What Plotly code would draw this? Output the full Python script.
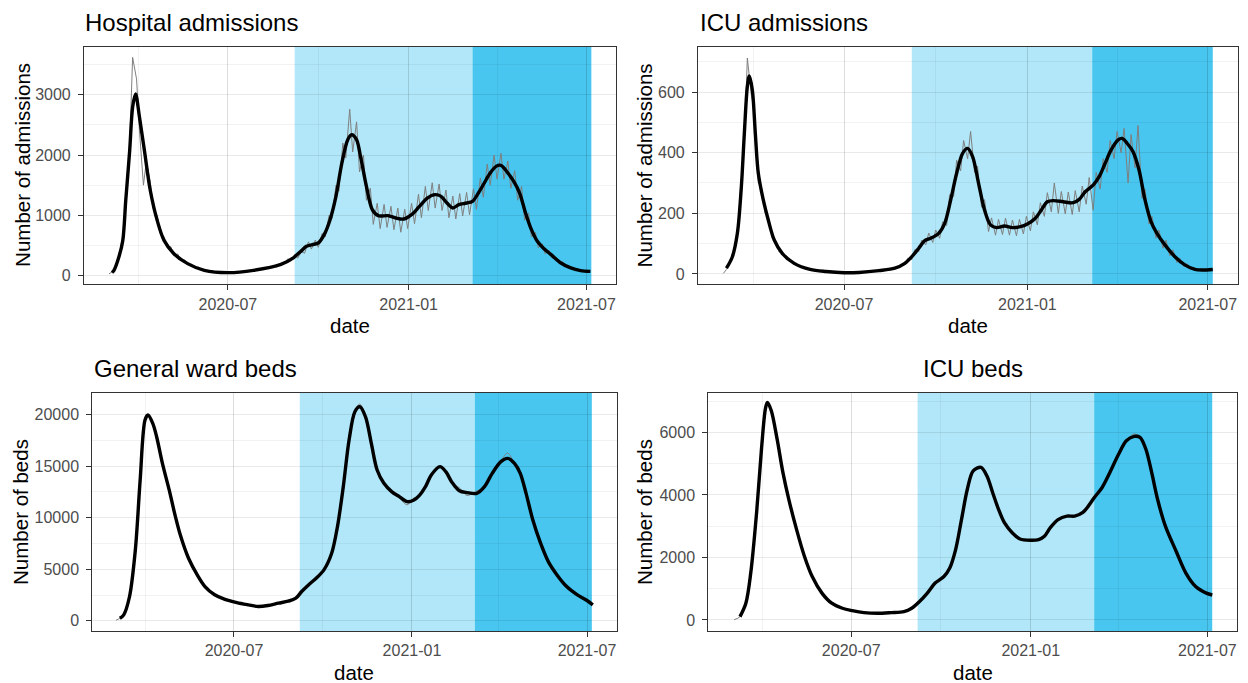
import pandas as pd
import plotly.graph_objects as go

# ---------------------------------------------------------------------------
# Data
# ---------------------------------------------------------------------------
# Reported admissions are sampled on Mondays and Thursdays.
raw_mon = pd.date_range("2020-03-02", "2021-07-05", freq="7D")
raw_thu = pd.date_range("2020-03-05", "2021-07-01", freq="7D")

hosp_adm_mon = [30, 170, 640, 2150, 3260, 1500, 1550, 1000, 650, 480,
                360, 260, 190, 140, 100, 80, 65, 58, 60, 68,
                80, 98, 115, 132, 160, 205, 280, 350, 400, 560,
                590, 700, 1000, 1500, 2200, 2760, 2550, 2000, 1450, 1200,
                1180, 1150, 1120, 1100, 1200, 1350, 1480, 1540, 1520, 1420,
                1320, 1360, 1380, 1440, 1620, 1850, 2000, 2030, 1900, 1740,
                1480, 1040, 720, 530, 420, 310, 230, 150, 112, 88,
                72]
hosp_adm_thu = [60, 330, 1300, 3620, 2400, 1900, 1100, 700, 470, 330,
                250, 180, 130, 95, 70, 58, 48, 44, 48, 58,
                70, 85, 100, 118, 145, 190, 240, 290, 370, 440,
                470, 640, 950, 1400, 1950, 2050, 1720, 1250, 850, 780,
                800, 760, 720, 780, 860, 960, 1080, 1120, 1080, 960,
                940, 990, 1010, 1100, 1300, 1500, 1600, 1600, 1450, 1250,
                920, 640, 460, 360, 290, 200, 150, 100, 78, 68]

icu_adm_mon = [2, 40, 120, 430, 590, 300, 200, 118, 72, 48,
               32, 23, 15, 11, 8, 7, 5, 4, 3, 4,
               5, 7, 9, 11, 14, 20, 30, 48, 74, 96,
               104, 118, 160, 255, 340, 380, 335, 220, 140, 128,
               130, 128, 126, 132, 142, 162, 190, 205, 200, 198,
               196, 205, 230, 210, 280, 335, 380, 400, 300, 350,
               250, 165, 118, 85, 60, 38, 24, 14, 10, 9,
               14]
icu_adm_thu = [15, 75, 270, 712, 540, 290, 190, 112, 75, 52,
               36, 25, 17, 12, 10, 8, 6, 5, 6, 6,
               8, 10, 13, 16, 21, 32, 52, 80, 112, 135,
               145, 172, 262, 375, 440, 470, 355, 245, 185, 180,
               184, 178, 180, 190, 205, 235, 268, 300, 272, 270,
               275, 290, 318, 335, 380, 440, 470, 480, 460, 490,
               280, 190, 145, 112, 80, 52, 34, 22, 18, 18]

# Smoothed trend of hospital admissions
hosp_trend_dates = [
    "2020-03-05", "2020-03-07", "2020-03-12", "2020-03-16", "2020-03-19",
    "2020-03-23", "2020-03-26", "2020-03-29", "2020-04-02", "2020-04-07",
    "2020-04-13", "2020-04-20", "2020-04-27", "2020-05-07", "2020-05-21",
    "2020-06-07", "2020-07-01", "2020-07-27", "2020-08-24", "2020-09-06",
    "2020-09-13", "2020-09-19", "2020-09-25", "2020-10-01", "2020-10-07",
    "2020-10-13", "2020-10-19", "2020-10-25", "2020-10-31", "2020-11-04",
    "2020-11-09", "2020-11-13", "2020-11-19", "2020-11-25", "2020-12-01",
    "2020-12-11", "2020-12-19", "2020-12-27", "2021-01-04", "2021-01-12",
    "2021-01-20", "2021-01-28", "2021-02-03", "2021-02-09", "2021-02-15",
    "2021-02-21", "2021-03-01", "2021-03-07", "2021-03-13", "2021-03-19",
    "2021-03-25", "2021-03-31", "2021-04-05", "2021-04-12", "2021-04-18",
    "2021-04-24", "2021-04-30", "2021-05-06", "2021-05-12", "2021-05-18",
    "2021-05-26", "2021-06-05", "2021-06-15", "2021-06-25", "2021-07-05"]
hosp_trend = [
    50, 88, 309, 584, 1247,
    2075, 2793, 3014, 2626, 2075,
    1412, 916, 584, 364, 199,
    88, 50, 88, 187, 300,
    400, 486, 514, 541, 680,
    928, 1315, 1867, 2254, 2337,
    2254, 1978, 1480, 1094, 994,
    994, 956, 939, 1011, 1149,
    1287, 1343, 1315, 1204, 1122,
    1177, 1204, 1232, 1370, 1536,
    1702, 1812, 1829, 1702, 1563,
    1370, 1039, 762, 569, 459,
    348, 210, 127, 83, 70]

# Smoothed trend of ICU admissions
icu_trend_dates = [
    "2020-03-05", "2020-03-11", "2020-03-16", "2020-03-20", "2020-03-23",
    "2020-03-26", "2020-03-28", "2020-03-31", "2020-04-03", "2020-04-06",
    "2020-04-11", "2020-04-16", "2020-04-22", "2020-04-30", "2020-05-12",
    "2020-05-28", "2020-06-13", "2020-07-01", "2020-07-16", "2020-08-05",
    "2020-08-21", "2020-08-31", "2020-09-07", "2020-09-14", "2020-09-20",
    "2020-09-26", "2020-10-04", "2020-10-10", "2020-10-16", "2020-10-22",
    "2020-10-28", "2020-11-02", "2020-11-07", "2020-11-13", "2020-11-19",
    "2020-11-25", "2020-12-01", "2020-12-09", "2020-12-17", "2020-12-25",
    "2021-01-01", "2021-01-09", "2021-01-15", "2021-01-21", "2021-01-27",
    "2021-02-06", "2021-02-16", "2021-02-22", "2021-02-28", "2021-03-08",
    "2021-03-14", "2021-03-20", "2021-03-26", "2021-04-02", "2021-04-06",
    "2021-04-11", "2021-04-17", "2021-04-23", "2021-04-29", "2021-05-05",
    "2021-05-11", "2021-05-19", "2021-05-29", "2021-06-08", "2021-06-18",
    "2021-06-26", "2021-07-06"]
icu_trend = [
    19, 57, 134, 288, 464,
    618, 653, 607, 464, 332,
    244, 178, 112, 68, 35,
    15, 8, 4, 5, 11,
    19, 35, 57, 85, 110,
    118, 134, 167, 244, 332,
    398, 414, 387, 299, 211,
    162, 153, 158, 153, 156,
    165, 184, 211, 238, 242,
    238, 235, 246, 271, 293,
    321, 365, 409, 442, 447,
    431, 403, 343, 244, 173,
    134, 96, 57, 30, 15,
    13, 15]

# General ward bed occupancy: smoothed trend and reported values
ward_dates = [
    "2020-03-01", "2020-03-05", "2020-03-09", "2020-03-15", "2020-03-21",
    "2020-03-26", "2020-03-31", "2020-04-03", "2020-04-08", "2020-04-12",
    "2020-04-18", "2020-04-25", "2020-05-01", "2020-05-07", "2020-05-15",
    "2020-05-24", "2020-06-01", "2020-06-11", "2020-06-21", "2020-07-04",
    "2020-07-16", "2020-07-26", "2020-08-05", "2020-08-16", "2020-08-26",
    "2020-09-03", "2020-09-09", "2020-09-16", "2020-09-24", "2020-10-02",
    "2020-10-10", "2020-10-16", "2020-10-22", "2020-10-28", "2020-11-03",
    "2020-11-08", "2020-11-14", "2020-11-20", "2020-11-26", "2020-12-03",
    "2020-12-11", "2020-12-19", "2020-12-27", "2021-01-03", "2021-01-09",
    "2021-01-15", "2021-01-21", "2021-01-30", "2021-02-05", "2021-02-11",
    "2021-02-19", "2021-02-27", "2021-03-09", "2021-03-17", "2021-03-25",
    "2021-04-03", "2021-04-10", "2021-04-17", "2021-04-23", "2021-04-29",
    "2021-05-06", "2021-05-14", "2021-05-22", "2021-05-31", "2021-06-10",
    "2021-06-21", "2021-07-01", "2021-07-07"]
ward_trend = [
    None, 250, 580, 2355, 6870,
    13650, 19450, 19940, 19130, 17840,
    15260, 12680, 10260, 8160, 6060,
    4450, 3320, 2520, 2100, 1770,
    1550, 1390, 1480, 1710, 1900,
    2190, 2840, 3480, 4130, 4940,
    6550, 9130, 13000, 17520, 20260,
    20740, 19770, 17190, 14610, 13320,
    12520, 12030, 11550, 11710, 12190,
    13000, 14130, 14940, 14450, 13480,
    12610, 12420, 12350, 13000, 14290,
    15420, 15740, 15260, 14290, 12350,
    9770, 7520, 5740, 4450, 3320,
    2520, 1970, 1550]
ward_reported = [
    60, 250, 580, 2355, 6870,
    13650, 19450, 19900, 19130, 17840,
    15260, 12680, 10260, 8160, 6060,
    4450, 3320, 2520, 2100, 1770,
    1550, 1390, 1480, 1710, 1900,
    2190, 2840, 3480, 4130, 4940,
    6550, 9130, 13000, 17520, 20300,
    21000, 19800, 17190, 14610, 13200,
    12500, 11900, 11250, 11900, 12100,
    13000, 14130, 14950, 14500, 13350,
    12900, 12150, 12600, 12900, 14290,
    15500, 16250, 15200, 14290, 12350,
    9770, 7520, 5740, 4450, 3320,
    2520, 1970, 1550]

# ICU bed occupancy: smoothed trend and reported values
icu_bed_dates = [
    "2020-03-03", "2020-03-09", "2020-03-15", "2020-03-20", "2020-03-26",
    "2020-03-31", "2020-04-04", "2020-04-06", "2020-04-10", "2020-04-16",
    "2020-04-22", "2020-04-28", "2020-05-06", "2020-05-14", "2020-05-22",
    "2020-06-01", "2020-06-11", "2020-06-22", "2020-07-02", "2020-07-14",
    "2020-07-28", "2020-08-11", "2020-08-24", "2020-09-01", "2020-09-09",
    "2020-09-17", "2020-09-25", "2020-10-04", "2020-10-10", "2020-10-16",
    "2020-10-22", "2020-10-28", "2020-11-03", "2020-11-11", "2020-11-17",
    "2020-11-23", "2020-11-29", "2020-12-05", "2020-12-13", "2020-12-21",
    "2021-01-01", "2021-01-09", "2021-01-15", "2021-01-21", "2021-01-29",
    "2021-02-07", "2021-02-15", "2021-02-23", "2021-03-01", "2021-03-07",
    "2021-03-15", "2021-03-23", "2021-04-01", "2021-04-09", "2021-04-17",
    "2021-04-23", "2021-04-29", "2021-05-05", "2021-05-11", "2021-05-19",
    "2021-05-30", "2021-06-09", "2021-06-19", "2021-06-30", "2021-07-06"]
icu_bed_trend = [
    None, 107, 536, 1500, 3430,
    5460, 6750, 6960, 6700, 5790,
    4710, 3860, 2890, 2040, 1390,
    860, 536, 375, 300, 236,
    214, 236, 268, 375, 590,
    860, 1180, 1390, 1660, 2250,
    3210, 4180, 4770, 4880, 4610,
    4070, 3540, 3110, 2790, 2590,
    2550, 2570, 2680, 2950, 3210,
    3320, 3320, 3430, 3640, 3910,
    4230, 4710, 5300, 5730, 5870,
    5840, 5460, 4710, 3860, 3000,
    2200, 1500, 1070, 860, 800]
icu_bed_reported = [
    10, 107, 536, 1500, 3430,
    5460, 6750, 6960, 6700, 5790,
    4710, 3860, 2890, 2040, 1390,
    860, 536, 375, 300, 236,
    214, 236, 268, 375, 590,
    860, 1180, 1390, 1660, 2250,
    3210, 4180, 4770, 4880, 4610,
    4070, 3540, 3110, 2790, 2590,
    2550, 2570, 2680, 2950, 3210,
    3320, 3320, 3430, 3640, 3910,
    4230, 4710, 5300, 5730, 5950,
    5840, 5460, 4710, 3860, 3000,
    2200, 1500, 1070, 860, 800]

# Shaded periods: [start of first period, start of second period, end]
phase_bounds = ["2020-09-07", "2021-03-07", "2021-07-06"]
phase_colors = ["#b1e7f8", "#48c6ef"]

x_ticks = ["2020-07-01", "2021-01-01", "2021-07-01"]
x_range = ["2020-02-05 12:00", "2021-07-31 12:00"]


def interleave(mon_vals, thu_vals):
    dates, vals = [], []
    for i, v in enumerate(mon_vals):
        dates.append(raw_mon[i])
        vals.append(v)
        if i < len(thu_vals):
            dates.append(raw_thu[i])
            vals.append(thu_vals[i])
    return dates, vals


hosp_raw_dates, hosp_raw = interleave(hosp_adm_mon, hosp_adm_thu)
icu_raw_dates, icu_raw = interleave(icu_adm_mon, icu_adm_thu)

# ---------------------------------------------------------------------------
# Figure
# ---------------------------------------------------------------------------
W, H = 1248, 683
FONT = "Liberation Sans, Arial, sans-serif"
GRID = "rgba(0,0,0,0.085)"
GRID_MINOR = "rgba(0,0,0,0.05)"


def px_x(p):
    return p / W


def px_y(p):
    return 1 - p / H


panels = [
    dict(title="Hospital admissions", title_x=83, title_anchor="left",
         ylab="Number of admissions", ylab_x=22.5,
         box=(84, 616.4, 46.5, 284.3), yrange=[-144, 3800], dtick=1000,
         raw=(hosp_raw_dates, hosp_raw),
         trend=(hosp_trend_dates, hosp_trend), raw_spline=False),
    dict(title="ICU admissions", title_x=698, title_anchor="left",
         ylab="Number of admissions", ylab_x=644,
         box=(698, 1238.2, 46.5, 284.3), yrange=[-34, 750], dtick=200,
         raw=(icu_raw_dates, icu_raw),
         trend=(icu_trend_dates, icu_trend), raw_spline=False),
    dict(title="General ward beds", title_x=92, title_anchor="left",
         ylab="Number of beds", ylab_x=21,
         box=(92.3, 616.5, 392.9, 631), yrange=[-987, 22085], dtick=5000,
         raw=(ward_dates, ward_reported),
         trend=(ward_dates, ward_trend), raw_spline=True),
    dict(title="ICU beds", title_x=972.7, title_anchor="center",
         ylab="Number of beds", ylab_x=645,
         box=(708.3, 1237.1, 392.9, 631), yrange=[-352, 7262], dtick=2000,
         raw=(icu_bed_dates, icu_bed_reported),
         trend=(icu_bed_dates, icu_bed_trend), raw_spline=True),
]

fig = go.Figure()
shapes, annotations = [], []
layout_axes = {}

for i, p in enumerate(panels, start=1):
    sfx = "" if i == 1 else str(i)
    xa, ya = f"x{sfx}", f"y{sfx}"
    x0, x1, y0, y1 = p["box"]

    # reported series (grey) and smoothed trend (black)
    rd, rv = p["raw"]
    fig.add_trace(go.Scatter(
        x=rd, y=rv, xaxis=xa, yaxis=ya, mode="lines",
        line=dict(color="#7f7f7f", width=1,
                  shape="spline" if p["raw_spline"] else "linear"),
        connectgaps=True, showlegend=False, hoverinfo="skip"))
    td, tv = p["trend"]
    fig.add_trace(go.Scatter(
        x=td, y=tv, xaxis=xa, yaxis=ya, mode="lines",
        line=dict(color="black", width=3.4, shape="spline", smoothing=0.9),
        connectgaps=False, showlegend=False, hoverinfo="skip"))

    # shaded periods
    for k in range(2):
        shapes.append(dict(
            type="rect", xref=xa, yref="paper",
            x0=phase_bounds[k], x1=phase_bounds[k + 1],
            y0=px_y(y1), y1=px_y(y0),
            fillcolor=phase_colors[k], line=dict(width=0), layer="below"))

    common = dict(
        showline=True, mirror=True, linecolor="#333333", linewidth=1.1,
        ticks="outside", ticklen=5, tickwidth=1.1, tickcolor="#333333",
        tickfont=dict(family=FONT, size=16, color="#4d4d4d"),
        showgrid=True, gridcolor=GRID, gridwidth=1.1, zeroline=False,
    )
    layout_axes[f"xaxis{sfx}"] = dict(
        common, type="date", anchor=ya, domain=[px_x(x0), px_x(x1)],
        range=x_range, tickvals=x_ticks, tickformat="%Y-%m",
        minor=dict(dtick="M3", tick0="2020-01-01", showgrid=True,
                   gridcolor=GRID_MINOR, gridwidth=0.6))
    layout_axes[f"yaxis{sfx}"] = dict(
        common, anchor=xa, domain=[px_y(y1), px_y(y0)],
        range=p["yrange"], dtick=p["dtick"], tick0=0, tickformat="d",
        ticklabelstandoff=4,
        minor=dict(dtick=p["dtick"] / 2, tick0=0, showgrid=True,
                   gridcolor=GRID_MINOR, gridwidth=0.6))

    # panel title
    annotations.append(dict(
        text=p["title"], xref="paper", yref="paper",
        x=px_x(p["title_x"]), y=px_y(y0 - 24), xanchor=p["title_anchor"],
        yanchor="middle", showarrow=False,
        font=dict(family=FONT, size=24, color="black")))
    # x-axis title
    annotations.append(dict(
        text="date", xref="paper", yref="paper",
        x=px_x((x0 + x1) / 2), y=px_y(y1 + 41), xanchor="center",
        yanchor="middle", showarrow=False,
        font=dict(family=FONT, size=20.5, color="black")))
    # y-axis title
    annotations.append(dict(
        text=p["ylab"], xref="paper", yref="paper", textangle=-90,
        x=px_x(p["ylab_x"]), y=px_y((y0 + y1) / 2), xanchor="center",
        yanchor="middle", showarrow=False,
        font=dict(family=FONT, size=20.5, color="black")))

fig.update_layout(
    width=W, height=H, margin=dict(l=0, r=0, t=0, b=0),
    paper_bgcolor="white", plot_bgcolor="white",
    shapes=shapes, annotations=annotations, showlegend=False,
    **layout_axes)

fig.write_html("out.html")
